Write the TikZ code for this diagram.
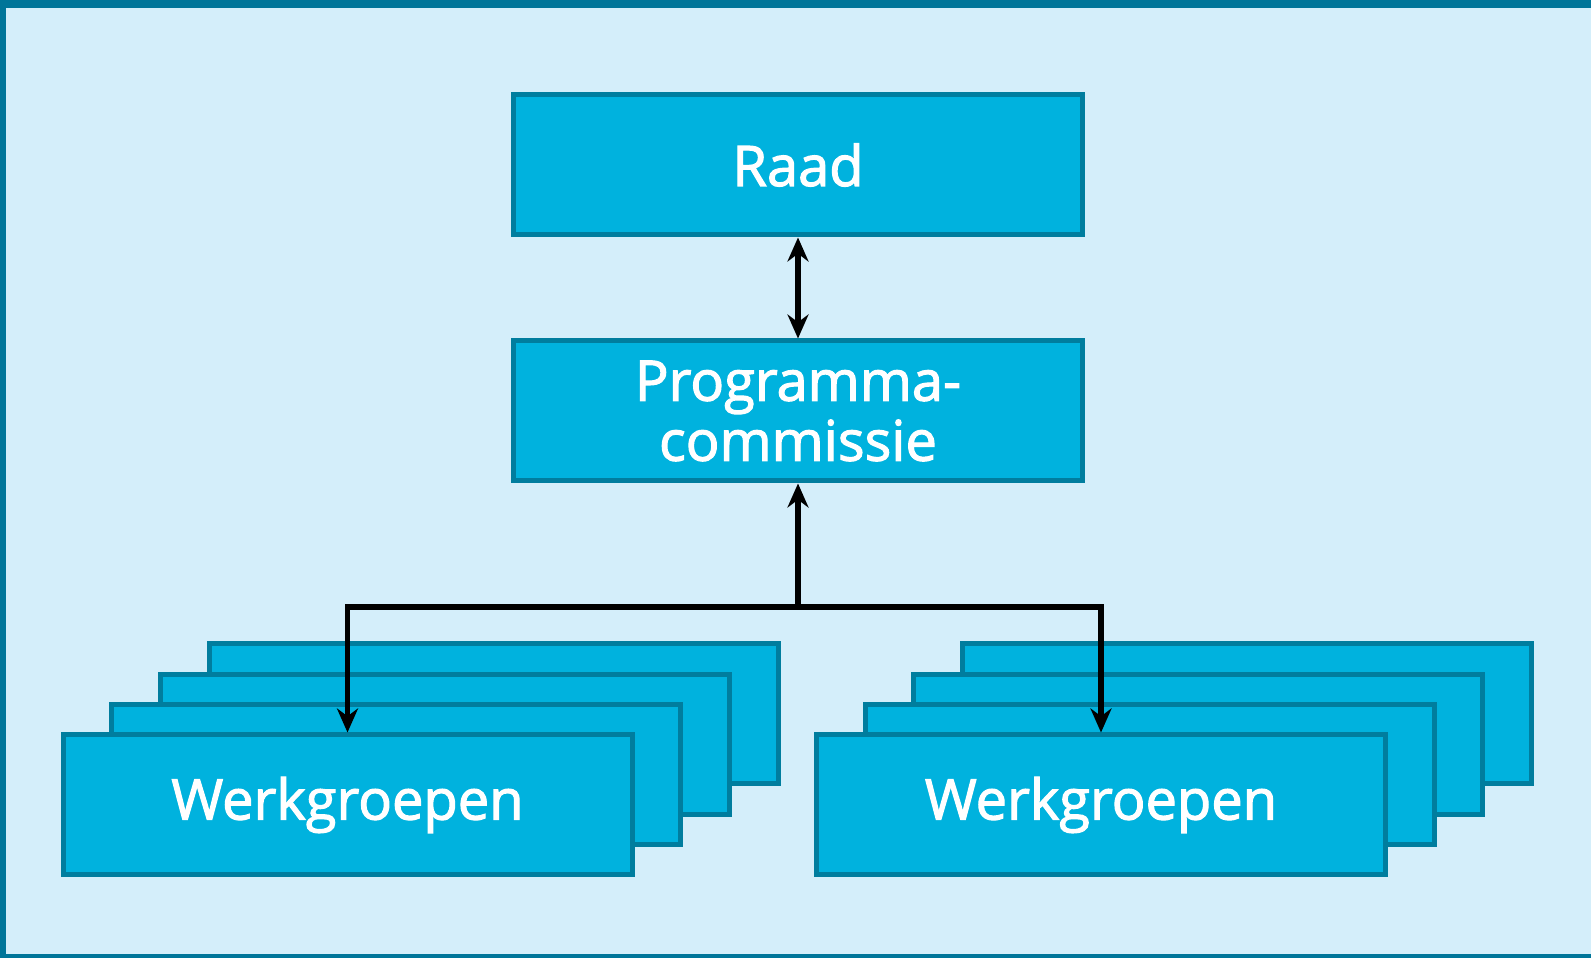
\documentclass[tikz,border=0pt]{standalone}
\usepackage{fontspec}
\setmainfont{Open Sans}
\usetikzlibrary{positioning,arrows.meta}

\definecolor{frame}{RGB}{0,117,153}
\definecolor{paper}{RGB}{212,238,250}
\definecolor{boxfill}{RGB}{0,178,222}
\definecolor{boxline}{RGB}{0,125,158}

\tikzstyle{orgbox} = [rectangle, draw=boxline, fill=boxfill, line width=5pt,
  minimum width=569pt, minimum height=140pt, text=white, align=center,
  font=\fontsize{56}{60}\selectfont\addfontfeature{FakeBold=2}]
\tikzstyle{arrow} = [line width=5.5pt, -{Stealth[length=24pt,width=21pt]}]
\tikzstyle{twoway} = [line width=5.5pt, {Stealth[length=24pt,width=21pt]}-{Stealth[length=24pt,width=21pt]}]

\begin{document}
\begin{tikzpicture}
    [x=1pt, y=1pt]
  % background and frame
  \fill[paper] (0,0) rectangle (1591,958);
  \fill[frame] (0,950) rectangle (1591,958);
  \fill[frame] (0,0) rectangle (6,958);
  \fill[frame] (0,0) rectangle (1591,4);
  \useasboundingbox (0,0) rectangle (1591,958);

  \node[orgbox] (raad) at (798,793) {Raad};
  \node[orgbox, below=101pt of raad] (prog) {Programma-\\commissie};

  % stacked working groups
  \foreach \i in {3,2,1} {
    \node[orgbox] at (347.5+48.7*\i,153+30.4*\i) {};
    \node[orgbox] at (1101+48.7*\i,153+30.4*\i) {};
  }
  \node[orgbox] (lwg) at (347.5,153) {Werkgroepen};
  \node[orgbox] (rwg) at (1101,153) {Werkgroepen};

  \coordinate (split) at (798,351);
  \draw [twoway] (raad) -- (prog);
  \draw [arrow] (split) -- (prog);
  \draw [arrow] (split) -| (lwg);
  \draw [arrow] (split) -| (rwg);
\end{tikzpicture}
\end{document}
